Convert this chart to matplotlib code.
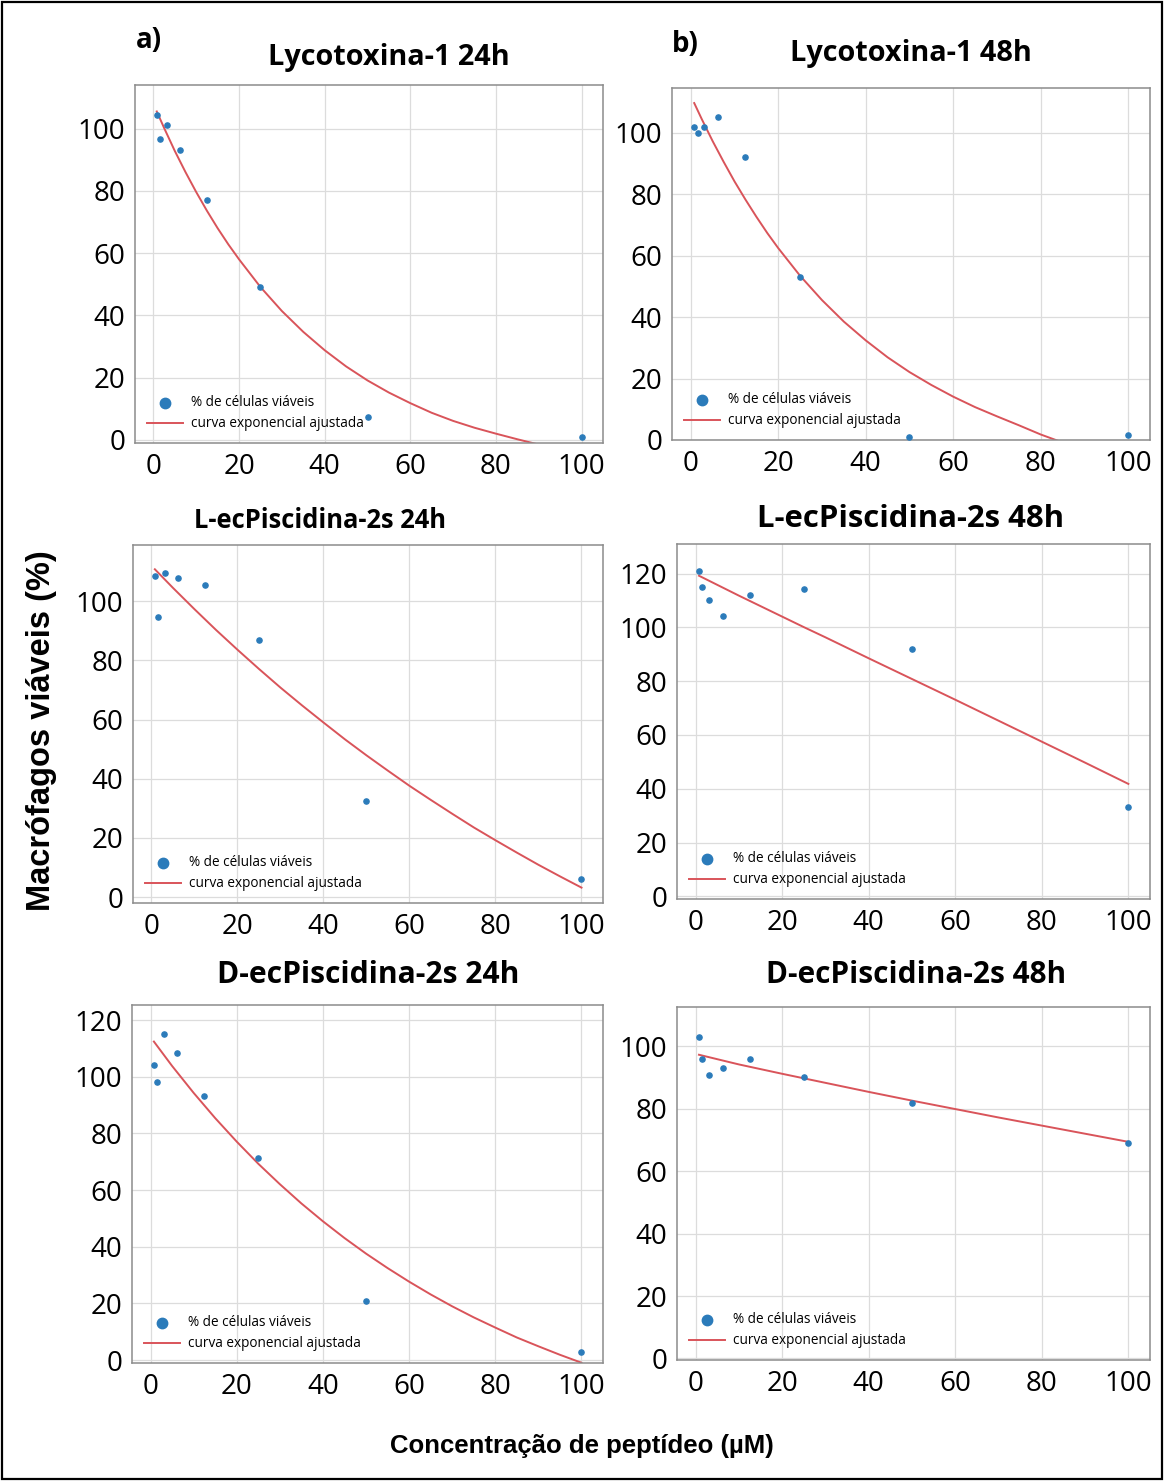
import numpy as np
import matplotlib
matplotlib.use("Agg")
import matplotlib.pyplot as plt
from matplotlib.patches import Rectangle

# peptide concentrations (uM)
conc = [0.78, 1.56, 3.125, 6.25, 12.5, 25, 50, 100]

# % viable macrophages per panel
lyco_24 = [104.5, 96.5, 101.0, 93.2, 76.9, 49.0, 7.3, 1.0]
lyco_48 = [101.9, 99.7, 101.7, 105.0, 91.9, 52.9, 1.0, 1.5]
lpis_24 = [108.6, 94.7, 109.7, 108.0, 105.4, 87.0, 32.6, 6.0]
lpis_48 = [121.1, 114.9, 110.1, 104.1, 112.2, 114.2, 91.9, 33.2]
dpis_24 = [104.2, 98.1, 115.2, 108.2, 93.3, 71.2, 20.8, 2.8]
dpis_48 = [103.0, 95.9, 90.9, 93.0, 95.9, 90.1, 82.0, 69.0]

# fitted exponential curves (x, y)
fit_x_a = [0.78, 2.5, 5, 7.5, 10, 12.5, 15, 17.5, 20, 25, 30, 35, 40, 45, 50,
           55, 60, 65, 70, 75, 80, 85, 90]
fit_y_a = [105.5, 100.2, 92.8, 86.0, 79.6, 73.6, 68.0, 62.8, 58.0, 49.1, 41.4,
           34.7, 28.8, 23.6, 19.1, 15.2, 11.8, 8.7, 6.1, 3.9, 2.0, 0.2, -1.5]
fit_x_b = [0.78, 2.5, 5, 7.5, 10, 12.5, 15, 17.5, 20, 25, 30, 35, 40, 45, 50,
           55, 60, 65, 70, 75, 80, 85]
fit_y_b = [109.6, 104.4, 97.2, 90.5, 84.1, 78.2, 72.6, 67.3, 62.4, 53.4, 45.5,
           38.5, 32.4, 26.9, 22.1, 17.9, 14.1, 10.7, 7.7, 4.8, 1.8, -0.8]
fit_x_c = [0.78, 5, 10, 15, 20, 25, 30, 35, 40, 45, 50, 55, 60, 65, 70, 75,
           80, 85, 90, 95, 100]
fit_y_c = [110.8, 104.5, 97.3, 90.3, 83.6, 77.1, 70.8, 64.8, 59.0, 53.3, 47.9,
           42.7, 37.6, 32.8, 28.1, 23.5, 19.2, 15.0, 10.9, 7.0, 3.2]
fit_x_d = [0.78, 10, 20, 25, 30, 40, 50, 60, 70, 80, 90, 100]
fit_y_d = [119.2, 111.8, 104.0, 100.1, 96.3, 88.5, 80.8, 73.1, 65.3, 57.5, 49.7, 41.8]
fit_x_e = [0.78, 5, 10, 15, 20, 25, 30, 35, 40, 45, 50, 55, 60, 65, 70, 75,
           80, 85, 90, 95, 100]
fit_y_e = [112.4, 103.8, 94.3, 85.4, 77.1, 69.3, 62.1, 55.3, 49.0, 43.1, 37.6,
           32.5, 27.7, 23.2, 19.0, 15.1, 11.5, 8.0, 4.9, 1.9, -0.9]
fit_x_f = [0.78, 10, 20, 30, 40, 50, 60, 70, 80, 90, 100]
fit_y_f = [97.3, 94.2, 91.2, 88.3, 85.4, 82.6, 79.9, 77.2, 74.6, 72.0, 69.4]

titles = ["Lycotoxina-1 24h", "Lycotoxina-1 48h",
          "L-ecPiscidina-2s 24h", "L-ecPiscidina-2s 48h",
          "D-ecPiscidina-2s 24h", "D-ecPiscidina-2s 48h"]

W, H = 1164, 1481
fig = plt.figure(figsize=(W / 100, H / 100), dpi=100)

def px_axes(left, top, right, bottom):
    return fig.add_axes([left / W, 1 - bottom / H, (right - left) / W, (bottom - top) / H])

boxes = [(135, 85, 603, 443), (672, 88, 1150, 440),
         (133, 545, 603, 903), (677, 544, 1150, 899),
         (132, 1005, 603, 1363), (677, 1007, 1150, 1360)]
ylims = [(-1, 114), (0.5, 114.5), (-2, 119), (-1, 131), (-1, 125.3), (-0.5, 112.6)]
ytops = [100, 100, 100, 120, 120, 100]
points = [lyco_24, lyco_48, lpis_24, lpis_48, dpis_24, dpis_48]
fits = [(fit_x_a, fit_y_a), (fit_x_b, fit_y_b), (fit_x_c, fit_y_c),
        (fit_x_d, fit_y_d), (fit_x_e, fit_y_e), (fit_x_f, fit_y_f)]
title_pos = [(389, 57), (911, 54), (320, 521), (911, 519), (368, 975), (916, 975)]
title_size = [20.8, 20.8, 18.4, 22.4, 21.6, 21.4]

blue = "#2b7bba"
red = "#d9545a"

for i in range(6):
    ax = px_axes(*boxes[i])
    ax.scatter(conc, points[i], s=14, color=blue, zorder=3,
               label="% de células viáveis")
    fx, fy = fits[i]
    ax.plot(fx, fy, color=red, lw=1.4, zorder=2,
            label="curva exponencial ajustada")
    ax.set_xlim(-4.3, 105)
    ax.set_ylim(*ylims[i])
    ax.set_xticks(np.arange(0, 101, 20))
    ax.set_yticks(np.arange(0, ytops[i] + 1, 20))
    ax.grid(True, color="#dcdcdc", lw=0.9)
    ax.set_axisbelow(True)
    for sp in ax.spines.values():
        sp.set_color("#8c8c8c")
        sp.set_linewidth(1.1)
    ax.tick_params(length=0, labelsize=20, pad=7)
    for lab in ax.get_xticklabels() + ax.get_yticklabels():
        lab.set_fontfamily("Open Sans")
    ax.legend(loc="lower left", frameon=False,
              prop={"family": "Open Sans", "size": 9.8},
              handlelength=2.7, handletextpad=0.6, labelspacing=0.45,
              markerscale=2.0, borderaxespad=0.45)
    tx, ty = title_pos[i]
    fig.text(tx / W, 1 - ty / H, titles[i], ha="center", va="center",
             fontsize=title_size[i], fontweight="bold", family="Open Sans")

fig.text(149 / W, 1 - 41 / H, "a)", ha="center", va="center",
         fontsize=20, fontweight="bold", family="Open Sans")
fig.text(685 / W, 1 - 45 / H, "b)", ha="center", va="center",
         fontsize=20, fontweight="bold", family="Open Sans")

fig.text(42 / W, 1 - 731 / H, "Macrófagos viáveis (%)", rotation=90,
         ha="center", va="center", fontsize=23.5, fontweight="bold",
         family="Liberation Sans")
fig.text(582 / W, 1 - 1446 / H, "Concentração de peptídeo (µM)",
         ha="center", va="center", fontsize=18.5, fontweight="bold",
         family="Liberation Sans")

# outer frame
fig.patches.append(Rectangle((2 / W, 2 / H), 1 - 4 / W, 1 - 4 / H,
                             transform=fig.transFigure, fill=False,
                             ec="black", lw=1.6))

fig.savefig("out.png", dpi=100)
